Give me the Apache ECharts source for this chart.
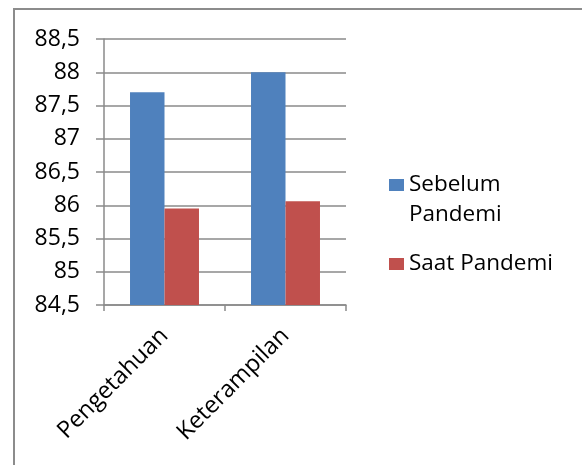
<!DOCTYPE html>
<html>
<head>
<meta charset="utf-8">
<script src="https://cdn.jsdelivr.net/npm/echarts@6/dist/echarts.min.js"></script>
<style>
  html, body { margin: 0; padding: 0; background: #fff; }
  #chart { width: 582px; height: 465px; }
</style>
</head>
<body>
<div id="chart"></div>
<script>
const categories = ['Pengetahuan', 'Keterampilan']
const seriesNames = ['Sebelum Pandemi', 'Saat Pandemi']
const sebelumValues = [87.7, 88.0]
const saatValues = [85.95, 86.06]
const yMin = 84.5
const yMax = 88.5
const yStep = 0.5

const font = '"Open Sans", "Liberation Sans", sans-serif'
const gridColor = '#8a8a8a'

const chart = echarts.init(document.getElementById('chart'), null, { renderer: 'canvas' })

const option = {
  backgroundColor: '#fff',
  animation: false,
  graphic: [
    {
      // outer chart frame (only top and left edges are visible)
      type: 'rect',
      shape: { x: 14, y: 9, width: 700, height: 600 },
      style: { fill: 'none', stroke: '#8c8c8c', lineWidth: 2 }
    }
  ],
  grid: { left: 104, top: 39, width: 242, height: 266 },
  legend: [
    {
      data: [seriesNames[0]],
      orient: 'vertical',
      left: 389,
      top: 140,
      padding: 0,
      itemWidth: 15,
      itemHeight: 12,
      icon: 'rect',
      // empty first line so the key lines up with "Sebelum"
      formatter: () => '{e| }\n{t|Sebelum}\n{t|Pandemi}',
      textStyle: {
        fontFamily: font, fontSize: 22.5, color: '#000', lineHeight: 30,
        rich: {
          e: { fontSize: 22.5, lineHeight: 30 },
          t: { fontFamily: font, fontSize: 22.5, color: '#000', lineHeight: 30 }
        }
      }
    },
    {
      data: [seriesNames[1]],
      orient: 'vertical',
      left: 389,
      top: 249,
      padding: 0,
      itemWidth: 15,
      itemHeight: 12,
      icon: 'rect',
      textStyle: { fontFamily: font, fontSize: 22.5, color: '#000', lineHeight: 30 }
    }
  ],
  xAxis: {
    type: 'category',
    data: categories,
    axisLine: { lineStyle: { color: gridColor, width: 1.5 } },
    axisTick: { show: true, length: 6, lineStyle: { color: gridColor, width: 1.5 } },
    axisLabel: { rotate: 45, margin: 27, color: '#000', fontFamily: font, fontSize: 23.5 }
  },
  yAxis: {
    type: 'value',
    min: yMin,
    max: yMax,
    interval: yStep,
    axisLine: { show: true, lineStyle: { color: gridColor, width: 1.5 } },
    axisTick: { show: true, length: 8, lineStyle: { color: gridColor, width: 1.5 } },
    splitLine: { lineStyle: { color: gridColor, width: 1.5 } },
    axisLabel: {
      margin: 24,
      color: '#000',
      fontFamily: font,
      fontSize: 23,
      formatter: v => String(v).replace('.', ',')
    }
  },
  series: [
    {
      name: seriesNames[0],
      type: 'bar',
      data: sebelumValues,
      barGap: '0%',
      barCategoryGap: '43%',
      itemStyle: { color: '#4f81bd' }
    },
    {
      name: seriesNames[1],
      type: 'bar',
      data: saatValues,
      itemStyle: { color: '#c0504d' }
    }
  ]
}

chart.setOption(option)
</script>
</body>
</html>
